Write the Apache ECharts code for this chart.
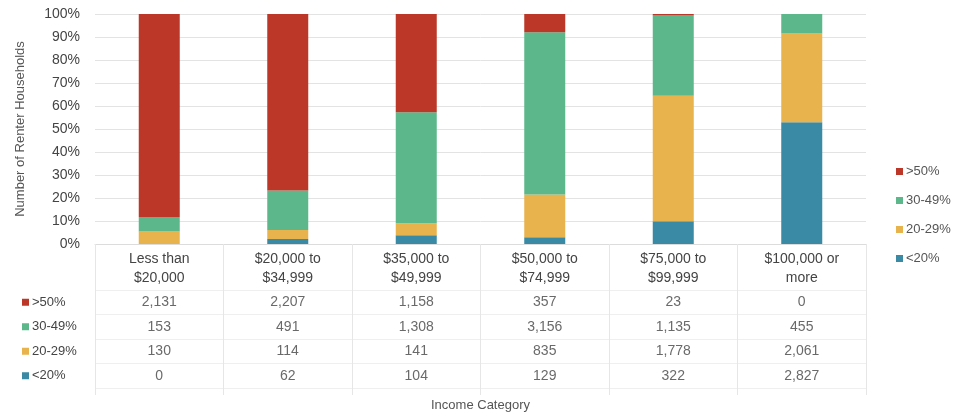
<!DOCTYPE html>
<html>
<head>
<meta charset="utf-8">
<script src="https://cdn.jsdelivr.net/npm/echarts@6/dist/echarts.min.js"></script>
<style>html,body{margin:0;padding:0;background:#fff}#c{width:964px;height:413px}</style>
</head>
<body>
<div id="c"></div>
<script>
const categories = ['Less than\n$20,000', '$20,000 to\n$34,999', '$35,000 to\n$49,999', '$50,000 to\n$74,999', '$75,000 to\n$99,999', '$100,000 or\nmore'];
const seriesNames = ['<20%', '20-29%', '30-49%', '>50%'];
const lt20 = [0, 62, 104, 129, 322, 2827];
const r20to29 = [130, 114, 141, 835, 1778, 2061];
const r30to49 = [153, 491, 1308, 3156, 1135, 455];
const gt50 = [2131, 2207, 1158, 357, 23, 0];
const yTicks = [0, 10, 20, 30, 40, 50, 60, 70, 80, 90, 100];
const tableRows = ['>50%', '30-49%', '20-29%', '<20%'];

const colors = {'<20%': '#3a8aa5', '20-29%': '#e8b24c', '30-49%': '#5cb88a', '>50%': '#bc3727'};
const valuesByName = {'<20%': lt20, '20-29%': r20to29, '30-49%': r30to49, '>50%': gt50};
const totals = categories.map((c, i) => lt20[i] + r20to29[i] + r30to49[i] + gt50[i]);
const font = 'Liberation Sans, Arial, sans-serif';

const barSeries = seriesNames.map(n => ({
  name: n, type: 'bar', stack: 'all', barWidth: 41,
  xAxisIndex: 0, yAxisIndex: 0,
  itemStyle: {color: colors[n]},
  data: valuesByName[n].map((v, i) => v / totals[i] * 100)
}));

const cells = [];
tableRows.forEach((r, ri) => valuesByName[r].forEach((v, ci) => cells.push([ci, ri, v])));

const rich = {};
tableRows.forEach((r, i) => { rich['m' + i] = {width: 7, height: 7, backgroundColor: colors[r]}; });
rich.t = {fontSize: 13, color: '#444', fontFamily: font, padding: [0, 0, 0, 3]};

const chart = echarts.init(document.getElementById('c'), null, {renderer: 'canvas'});
chart.setOption({
  animation: false,
  textStyle: {fontFamily: font},
  legend: {
    orient: 'vertical', left: 891, top: 160, itemGap: 16,
    icon: 'rect', itemWidth: 7, itemHeight: 7,
    data: ['>50%', '30-49%', '20-29%', '<20%'],
    textStyle: {fontSize: 13, color: '#555', fontFamily: font, padding: [0, 0, 0, -2]}
  },
  grid: [
    {left: 95, right: 98, top: 14, bottom: 169},
    {left: 95, right: 98, top: 290, height: 102}
  ],
  xAxis: [
    {
      type: 'category', gridIndex: 0, data: categories,
      axisLine: {show: true, lineStyle: {color: '#dcdcdc'}},
      axisTick: {show: true, length: 151, lineStyle: {color: '#e6e6e6'}},
      axisLabel: {fontSize: 14, color: '#444', lineHeight: 19, margin: 6, fontFamily: font}
    },
    {
      type: 'category', gridIndex: 1, data: categories,
      axisLine: {show: false}, axisTick: {show: false}, axisLabel: {show: false},
      name: 'Income Category', nameLocation: 'middle', nameGap: 11,
      nameTextStyle: {fontSize: 13, color: '#555', fontFamily: font}
    }
  ],
  yAxis: [
    {
      type: 'value', gridIndex: 0, min: 0, max: 100, interval: 10,
      axisLabel: {formatter: '{value}%', fontSize: 14, color: '#444', margin: 15, fontFamily: font},
      splitLine: {lineStyle: {color: '#e3e3e3'}},
      axisLine: {show: false}, axisTick: {show: false},
      name: 'Number of Renter Households', nameLocation: 'middle', nameGap: 68,
      nameTextStyle: {fontSize: 13, color: '#555', fontFamily: font}
    },
    {
      type: 'category', gridIndex: 1, data: tableRows, inverse: true,
      axisLine: {show: false}, axisTick: {show: false},
      splitLine: {show: true, lineStyle: {color: '#efefef'}},
      axisLabel: {
        align: 'left', margin: 73,
        formatter: (v, i) => '{m' + i + '|}{t|' + v + '}',
        rich: rich
      }
    }
  ],
  series: barSeries.concat([{
    name: 'table', type: 'scatter', xAxisIndex: 1, yAxisIndex: 1,
    symbolSize: 1, itemStyle: {color: 'rgba(0,0,0,0)'},
    label: {show: true, position: 'inside', fontSize: 14, color: '#444', fontFamily: font,
      formatter: p => p.value[2].toLocaleString('en-US')},
    data: cells
  }])
});
</script>
</body>
</html>
